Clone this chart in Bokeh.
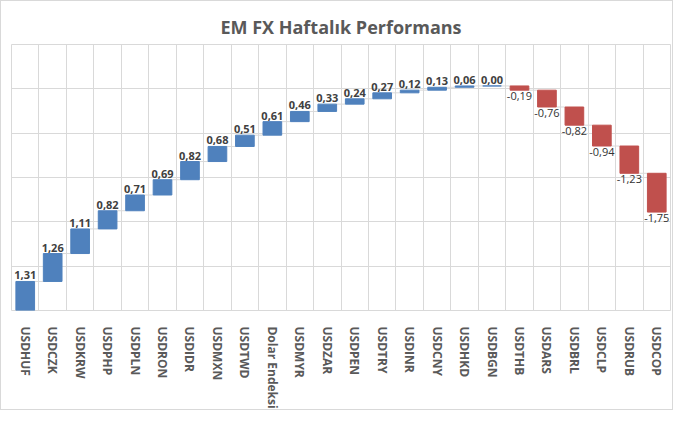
import numpy as np
from bokeh.plotting import figure
from bokeh.models import ColumnDataSource, FixedTicker, Range1d
from bokeh.embed import file_html
from bokeh.resources import INLINE
from bokeh.core.properties import value

categories = ["USDHUF", "USDCZK", "USDKRW", "USDPHP", "USDPLN", "USDRON", "USDIDR",
              "USDMXN", "USDTWD", "Dolar Endeksi", "USDMYR", "USDZAR", "USDPEN",
              "USDTRY", "USDINR", "USDCNY", "USDHKD", "USDBGN", "USDTHB", "USDARS",
              "USDBRL", "USDCLP", "USDRUB", "USDCOP"]
changes = [1.31, 1.26, 1.11, 0.82, 0.71, 0.69, 0.82, 0.68, 0.51, 0.61, 0.46, 0.33,
           0.24, 0.27, 0.12, 0.13, 0.06, 0.00, -0.19, -0.76, -0.82, -0.94, -1.23, -1.75]
y_ticks = [0, 2, 4, 6, 8, 10, 12]

FONT = "Open Sans"
BLUE = "#4F81BD"
RED = "#C0504D"
GRID = "#D9D9D9"

chg = np.array(changes)
end = np.cumsum(chg)
start = end - chg
idx = np.arange(len(categories))
labels = [f"{v:.2f}".replace(".", ",") for v in changes]

pos = chg >= 0
src_pos = ColumnDataSource(dict(x=idx[pos], top=end[pos], bottom=start[pos],
                                lbl=[l for l, p_ in zip(labels, pos) if p_]))
src_neg = ColumnDataSource(dict(x=idx[~pos], top=start[~pos], bottom=end[~pos],
                                lbl=[l for l, p_ in zip(labels, pos) if not p_]))
BW = 0.68
src_conn = ColumnDataSource(dict(x0=idx[:-1] + BW / 2, x1=idx[1:] - BW / 2,
                                 y=end[:-1]))

p = figure(width=673, height=410, output_backend="svg", toolbar_location=None,
           x_range=Range1d(-0.5, len(categories) - 0.5), y_range=Range1d(0, 12),
           y_axis_location=None, min_border_left=10, min_border_right=4,
           min_border_top=43, min_border_bottom=101)
p.styles = {"border": "1px solid #D9D9D9"}
p.background_fill_color = "white"
p.border_fill_color = "white"
p.outline_line_color = GRID

p.title.text = "EM FX Haftalık Performans"
p.title.align = "center"
p.title.vertical_align = "middle"
p.title.text_font = FONT
p.title.text_font_size = "18px"
p.title.text_font_style = "bold"
p.title.text_color = "#595959"

p.xgrid.ticker = FixedTicker(ticks=[i - 0.5 for i in range(len(categories) + 1)])
p.ygrid.ticker = FixedTicker(ticks=y_ticks)
p.xgrid.grid_line_color = GRID
p.ygrid.grid_line_color = GRID

p.xaxis.ticker = FixedTicker(ticks=list(idx))
p.xaxis.major_label_overrides = {int(i): c for i, c in zip(idx, categories)}
p.xaxis.major_label_orientation = "vertical"
p.xaxis.major_label_text_font = FONT
p.xaxis.major_label_text_font_size = "12px"
p.xaxis.major_label_text_font_style = "bold"
p.xaxis.major_label_text_color = "#595959"
p.xaxis.major_tick_line_color = None
p.xaxis.minor_tick_line_color = None
p.xaxis.axis_line_color = None
p.xaxis.major_label_standoff = 10

p.segment(x0="x0", y0="y", x1="x1", y1="y", source=src_conn,
          line_color=GRID, line_width=1)
p.vbar(x="x", top="top", bottom="bottom", width=BW, source=src_pos,
       fill_color=BLUE, line_color=BLUE, line_width=1)
p.vbar(x="x", top="top", bottom="bottom", width=BW, source=src_neg,
       fill_color=RED, line_color=RED, line_width=1)

p.text(x="x", y="top", text="lbl", source=src_pos, y_offset=-2,
       text_align="center", text_baseline="bottom", text_font=value(FONT),
       text_font_size="11px", text_font_style="bold", text_color="#404040")
p.text(x="x", y="bottom", text="lbl", source=src_neg, y_offset=2,
       text_align="center", text_baseline="top", text_font=value(FONT),
       text_font_size="11px", text_font_style="normal", text_color="#333333")

open("out.html", "w").write(file_html(p, INLINE))
